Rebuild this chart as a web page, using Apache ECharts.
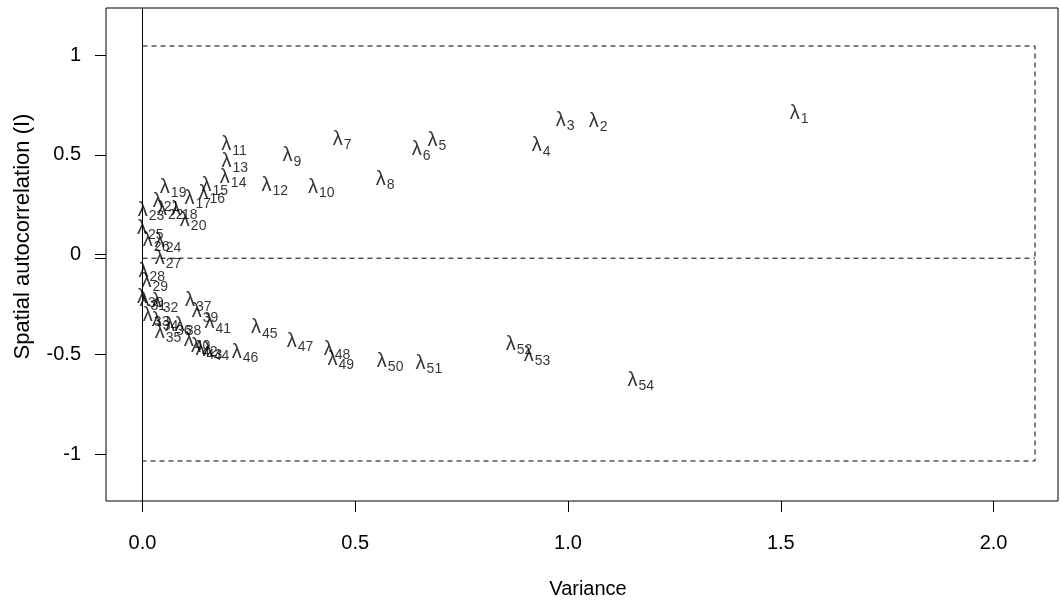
<!DOCTYPE html>
<html><head><meta charset="utf-8">
<script src="https://cdn.jsdelivr.net/npm/echarts@6/dist/echarts.min.js"></script>
<style>html,body{margin:0;padding:0;background:#fff}#c{width:1060px;height:601px}</style>
</head><body><div id="c"></div>
<script>
// eigenvector index (λ subscript)
const eigenIds = [1,2,3,4,5,6,7,8,9,10,11,12,13,14,15,16,17,18,19,20,21,22,23,24,25,26,27,
  28,29,30,31,32,33,34,35,36,37,38,39,40,41,42,43,44,45,46,47,48,49,50,51,52,53,54];
// variance of Moran's I for each eigenvector
const variance = [1.543,1.071,0.993,0.937,0.692,0.655,0.469,0.570,0.351,0.420,0.215,0.311,0.217,0.213,0.170,0.163,0.130,0.098,0.072,0.119,0.055,0.065,0.020,0.060,0.018,0.032,0.060,
  0.022,0.029,0.018,0.024,0.053,0.032,0.053,0.060,0.084,0.131,0.107,0.147,0.128,0.177,0.145,0.156,0.173,0.286,0.241,0.370,0.457,0.466,0.582,0.673,0.885,0.927,1.171];
// spatial autocorrelation (Moran's I)
const moranI = [0.709,0.669,0.674,0.544,0.574,0.524,0.579,0.378,0.494,0.338,0.549,0.348,0.464,0.388,0.348,0.308,0.283,0.228,0.338,0.173,0.268,0.228,0.223,0.063,0.128,0.068,-0.018,
  -0.083,-0.133,-0.213,-0.228,-0.238,-0.308,-0.329,-0.389,-0.355,-0.233,-0.355,-0.288,-0.429,-0.343,-0.459,-0.474,-0.479,-0.368,-0.489,-0.434,-0.474,-0.524,-0.534,-0.544,-0.449,-0.504,-0.629];
const xTicks = [0, 0.5, 1, 1.5, 2];
const yTicks = [-1, -0.5, 0, 0.5, 1];
// reference bounds
const Imax = 1.045, Imin = -1.035, expectedI = -0.0185, boxVarMax = 2.0975;

const FONT = '"Liberation Sans", Arial, sans-serif';
const chart = echarts.init(document.getElementById('c'), null, {renderer: 'canvas'});
const pts = eigenIds.map((id, i) => ({value: [variance[i], moranI[i]], id: id}));
const dashed = {color: '#000', width: 1, type: [5, 4]};
const option = {
  animation: false,
  backgroundColor: '#fff',
  grid: {left: 106, right: 2, top: 8, bottom: 100, outerBoundsMode: 'none', containLabel: false,
    show: true, borderColor: '#000', borderWidth: 1, backgroundColor: 'transparent'},
  xAxis: {
    type: 'value', min: -0.0858, max: 2.1515, position: 'bottom',
    axisLine: {show: false, onZero: false}, splitLine: {show: false},
    axisTick: {show: true, inside: false, customValues: xTicks, length: 11, lineStyle: {color: '#000'}},
    axisLabel: {customValues: xTicks, formatter: v => v.toFixed(1), margin: 32, fontSize: 20, color: '#000', fontFamily: FONT},
    name: 'Variance', nameLocation: 'middle', nameGap: 78,
    nameTextStyle: {fontSize: 20, color: '#000', fontFamily: FONT, padding: [0, 0, 0, 12]}
  },
  yAxis: {
    type: 'value', min: -1.2356, max: 1.2356, position: 'left',
    axisLine: {show: false, onZero: false}, splitLine: {show: false},
    axisTick: {show: true, inside: false, customValues: [-1, -0.5, 0, expectedI, 0.5, 1], length: 11, lineStyle: {color: '#000'}},
    axisLabel: {customValues: yTicks, formatter: v => String(v), margin: 25, fontSize: 20, color: '#000', fontFamily: FONT},
    name: 'Spatial autocorrelation (I)', nameLocation: 'middle', nameGap: 72,
    nameTextStyle: {fontSize: 22, color: '#000', fontFamily: FONT, padding: [0, 0, 0, 36]}
  },
  series: [
    {
      type: 'line', data: [[0, Imax], [boxVarMax, Imax], [boxVarMax, Imin], [0, Imin]],
      symbol: 'none', lineStyle: dashed, silent: true, z: 1
    },
    {
      type: 'line', data: [[0, expectedI], [boxVarMax, expectedI]],
      symbol: 'none', lineStyle: dashed, silent: true, z: 1
    },
    {
      type: 'scatter', data: pts, symbol: 'circle', symbolSize: 1,
      itemStyle: {color: 'transparent'}, z: 3,
      label: {
        show: true, position: 'inside', color: '#000',
        formatter: p => '{l|λ}{s|' + p.data.id + '}',
        rich: {
          l: {fontSize: 20, fontFamily: FONT, color: '#000', lineHeight: 22},
          s: {fontSize: 14, fontFamily: FONT, color: '#000', lineHeight: 14, padding: [12, 0, 0, 1]}
        }
      },
      markLine: {
        silent: true, symbol: 'none', label: {show: false},
        lineStyle: {color: '#000', width: 1, type: 'solid'},
        data: [{xAxis: 0}]
      }
    }
  ]
};
chart.setOption(option);
</script></body></html>
